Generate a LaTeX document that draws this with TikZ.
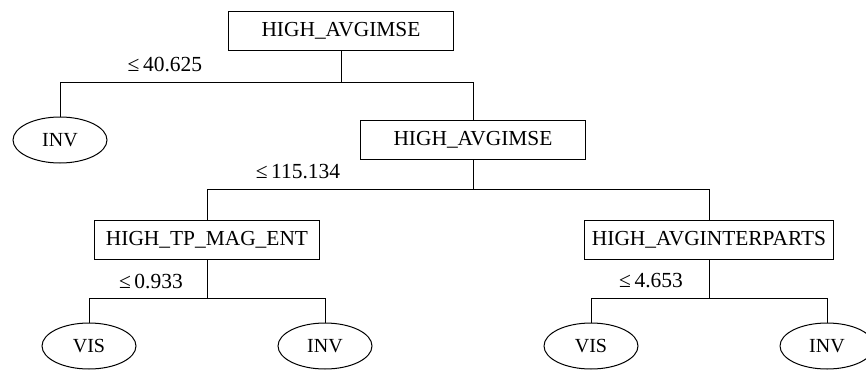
\documentclass[tikz,border=0pt]{standalone}
\usepackage{fontspec}
\setmainfont{Liberation Serif}
\usetikzlibrary{shapes.geometric}
\begin{document}
\begin{tikzpicture}[x=1pt, y=-1pt, line width=1pt,
  testbox/.style={draw, rectangle, minimum width=225pt, minimum height=39pt, inner xsep=7pt, font=\fontsize{21.4}{24}\selectfont},
  folha/.style={draw, ellipse, minimum width=94pt, minimum height=46pt, inner sep=0pt, font=\fontsize{20}{22}\selectfont},
  rotulo/.style={inner sep=0pt, font=\fontsize{21.5}{24}\selectfont}]
\useasboundingbox (0,0) rectangle (866,369);
% nos de teste
\node[testbox] (raiz) at (341,31) {HIGH\_AVGIMSE};
\node[testbox] (imse) at (473,140) {HIGH\_AVGIMSE};
\node[testbox] (tpmag) at (207,240) {HIGH\_TP\_MAG\_ENT};
\node[testbox] (inter) at (709,240) {HIGH\_AVGINTERPARTS};
% folhas
\node[folha] (inv1) at (60,140) {INV};
\node[folha] (vis1) at (89,346) {VIS};
\node[folha] (inv2) at (325,346) {INV};
\node[folha] (vis2) at (591,346) {VIS};
\node[folha] (inv3) at (827,346) {INV};
% juncoes
\coordinate (j1) at (341,82);
\coordinate (j2) at (473,189);
\coordinate (j3) at (207,298);
\coordinate (j4) at (709,298);
% ramos
\draw (raiz.south) -- (j1) -| (inv1.north);
\draw (j1) -| (imse.north);
\draw (imse.south) -- (j2) -| (tpmag.north);
\draw (j2) -| (inter.north);
\draw (tpmag.south) -- (j3) -| (vis1.north);
\draw (j3) -| (inv2.north);
\draw (inter.south) -- (j4) -| (vis2.north);
\draw (j4) -| (inv3.north);
% limiares
\node[rotulo] (l1) at (165,65) {≤\,40.625};
\node[rotulo] (l2) at (298,172) {≤\,115.134};
\node[rotulo] (l3) at (151,281) {≤\,0.933};
\node[rotulo] (l4) at (651,281) {≤\,4.653};
\end{tikzpicture}
\end{document}
